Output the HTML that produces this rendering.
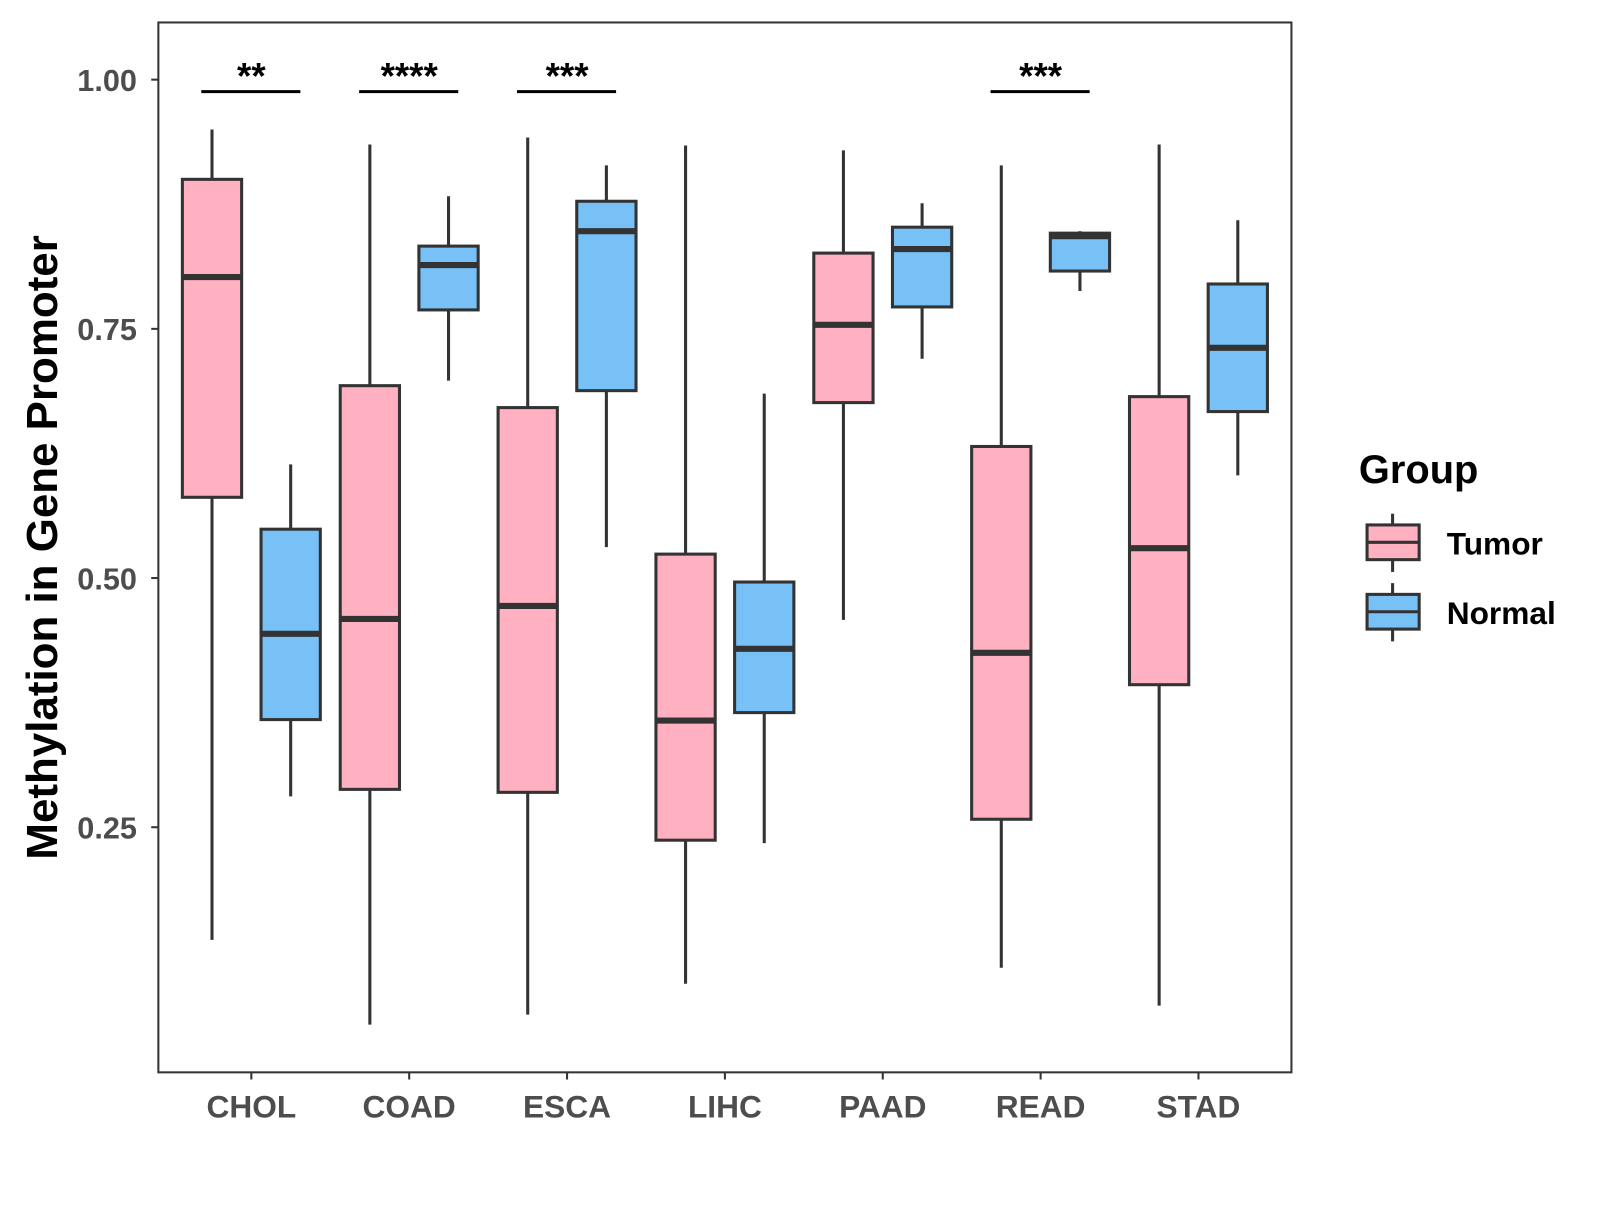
<!DOCTYPE html>
<html><head><meta charset="utf-8"><style>
body{margin:0;background:#fff;}
text{font-family:"Liberation Sans",sans-serif;font-weight:bold;}
</style></head><body>
<svg width="1600" height="1200" viewBox="0 0 1566 1175" preserveAspectRatio="none" xmlns="http://www.w3.org/2000/svg">
<rect x="155" y="22" width="1109" height="1028" fill="#fff" stroke="#333" stroke-width="2"/>
<g id="axes"></g>
<g id="marks"></g>
<text x="56" y="536" font-size="43" text-anchor="middle" transform="rotate(-90 56 536)" fill="#000">Methylation in Gene Promoter</text>
<g>
<text x="1330" y="473" font-size="39" fill="#000">Group</text>
<g>
<line x1="1363" y1="503" x2="1363" y2="560" stroke="#333" stroke-width="3"/>
<rect x="1338" y="514" width="51" height="34" fill="#FFB0C1" stroke="#333" stroke-width="3"/>
<line x1="1338" y1="531" x2="1389" y2="531" stroke="#333" stroke-width="3"/>
<text x="1416" y="543" font-size="31" fill="#000">Tumor</text></g>
<g>
<line x1="1363" y1="571" x2="1363" y2="628" stroke="#333" stroke-width="3"/>
<rect x="1338" y="582" width="51" height="34" fill="#77C1F7" stroke="#333" stroke-width="3"/>
<line x1="1338" y1="599" x2="1389" y2="599" stroke="#333" stroke-width="3"/>
<text x="1416" y="611" font-size="31" fill="#000">Normal</text></g>
</g>
</svg>
<script>
const categories=["CHOL","COAD","ESCA","LIHC","PAAD","READ","STAD"];
const tumorStats=[[0.137,0.581,0.802,0.900,0.950],[0.052,0.288,0.459,0.693,0.935],[0.062,0.285,0.472,0.671,0.942],[0.093,0.237,0.357,0.524,0.934],[0.458,0.676,0.754,0.826,0.929],[0.109,0.258,0.425,0.632,0.914],[0.071,0.393,0.530,0.682,0.935]];
const normalStats=[[0.281,0.358,0.444,0.549,0.614],[0.698,0.769,0.814,0.833,0.883],[0.531,0.688,0.848,0.878,0.914],[0.234,0.365,0.429,0.496,0.685],[0.720,0.772,0.830,0.852,0.876],[0.788,0.808,0.843,0.846,0.848],[0.603,0.667,0.731,0.795,0.859]];
const yTicks=[0.25,0.5,0.75,1.0];
const yTickLabels=["0.25","0.50","0.75","1.00"];
const sigCategories=["CHOL","COAD","ESCA","READ"];
const sigLabels=["**","****","***","***"];
const sigValue=0.988;
const NS="http://www.w3.org/2000/svg";
function y(v){return 78+(1-v)*976;}
function xc(i){return 246+i*154.5;}
function mk(tag,attrs,parent){const e=document.createElementNS(NS,tag);for(const k in attrs)e.setAttribute(k,attrs[k]);parent.appendChild(e);return e;}
const axes=document.getElementById('axes'),marks=document.getElementById('marks');
yTicks.forEach((v,i)=>{
  const t=mk('line',{x1:148,x2:155,y1:y(v),y2:y(v),stroke:'#333','stroke-width':2},axes);
  
  
  const l=mk('text',{x:134,y:y(v)+11,'font-size':30,'text-anchor':'end',fill:'#4d4d4d'},axes);
  l.textContent=yTickLabels[i];
  
  
});
categories.forEach((c,i)=>{
  const t=mk('line',{x1:xc(i),x2:xc(i),y1:1050,y2:1057,stroke:'#333','stroke-width':2},axes);
  
  
  const l=mk('text',{x:xc(i),y:1094,'font-size':31,'text-anchor':'middle',fill:'#4d4d4d'},axes);
  l.textContent=c;
  
  
});
function box(cx,s,fill,name){
  const g=mk('g',{},marks);
  
  
  mk('line',{x1:cx,x2:cx,y1:y(s[4]),y2:y(s[0]),stroke:'#333','stroke-width':3},g);
  mk('rect',{x:cx-29,y:y(s[3]),width:58,height:y(s[1])-y(s[3]),fill:fill,stroke:'#333','stroke-width':3},g);
  mk('line',{x1:cx-29,x2:cx+29,y1:y(s[2]),y2:y(s[2]),stroke:'#333','stroke-width':6},g);
}
categories.forEach((c,i)=>{
  box(xc(i)-38.5,tumorStats[i],'#FFB0C1','box-tumor-'+c.toLowerCase());
  box(xc(i)+38.5,normalStats[i],'#77C1F7','box-normal-'+c.toLowerCase());
});
sigCategories.forEach((c,j)=>{
  const i=categories.indexOf(c);
  const g=mk('g',{},marks);
  
  
  mk('line',{x1:xc(i)-49,x2:xc(i)+48,y1:y(sigValue),y2:y(sigValue),stroke:'#000','stroke-width':3},g);
  const t=mk('text',{x:xc(i),y:y(sigValue)-3,'font-size':36,'text-anchor':'middle',fill:'#000'},g);
  t.textContent=sigLabels[j];
});
</script>
</body></html>
